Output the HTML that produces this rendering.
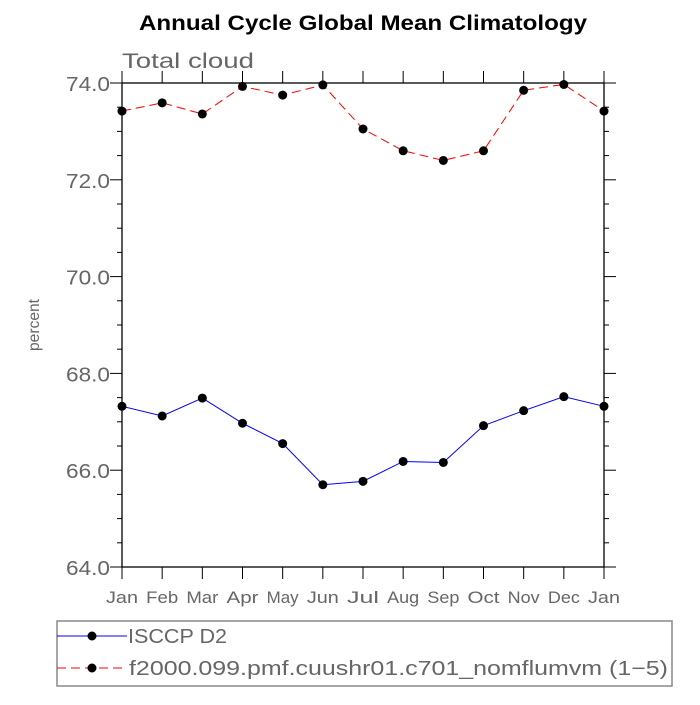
<!DOCTYPE html>
<html><head><meta charset="utf-8"><style>
body{margin:0;background:#fff}
svg text{font-family:"Liberation Sans","DejaVu Sans",sans-serif}
</style></head><body>
<svg id="chart" width="700" height="700" xmlns="http://www.w3.org/2000/svg">
<rect width="700" height="700" fill="#fff"/>
<text x="139" y="30" font-size="21" font-weight="bold" fill="#000" textLength="448" lengthAdjust="spacingAndGlyphs">Annual Cycle Global Mean Climatology</text>
<text x="122" y="68" font-size="21" fill="#666" textLength="132" lengthAdjust="spacingAndGlyphs">Total cloud</text>
<text transform="translate(39,325) rotate(-90)" text-anchor="middle" font-size="16" fill="#666" textLength="52" lengthAdjust="spacingAndGlyphs">percent</text>
<g id="axes"></g>
<g id="series"></g>
<rect x="57" y="621" width="615" height="65" fill="none" stroke="#888" stroke-width="1.5"/>
<g>
<line x1="57" y1="636" x2="127" y2="636" stroke="#00f" stroke-width="1"/>
<circle cx="92" cy="636" r="4.5" fill="#000"/>
<text x="128" y="643" font-size="20" fill="#666" textLength="99" lengthAdjust="spacingAndGlyphs">ISCCP D2</text>
</g>
<g>
<line x1="57" y1="668" x2="127" y2="668" stroke="#f00" stroke-width="1" stroke-dasharray="9,5"/>
<circle cx="92" cy="668" r="4.5" fill="#000"/>
<text x="129" y="675" font-size="20" fill="#666" textLength="539" lengthAdjust="spacingAndGlyphs">f2000.099.pmf.cuushr01.c701_nomflumvm (1−5)</text>
</g>
</svg>
<script>
const months=["Jan","Feb","Mar","Apr","May","Jun","Jul","Aug","Sep","Oct","Nov","Dec","Jan"];
const isccp=[67.32,67.12,67.49,66.97,66.55,65.7,65.77,66.18,66.16,66.92,67.23,67.52,67.32];
const model=[73.42,73.59,73.36,73.93,73.75,73.96,73.05,72.6,72.4,72.6,73.85,73.97,73.42];
const yTicks=[64,66,68,70,72,74];
const X0=122,X1=604,Y0=83,Y1=567,YMIN=64,YMAX=74;
const xs=i=>X0+(X1-X0)*i/(months.length-1);
const ys=v=>Y1-(v-YMIN)/(YMAX-YMIN)*(Y1-Y0);
const NS="http://www.w3.org/2000/svg";
function mk(t,a,p){const e=document.createElementNS(NS,t);for(const k in a)e.setAttribute(k,a[k]);p.appendChild(e);return e;}
const ax=document.getElementById('axes');
const fr=mk('rect',{x:X0,y:Y0,width:X1-X0,height:Y1-Y0,fill:'none',stroke:'#000','stroke-width':1.3},ax);


for(let v=YMIN;v<=YMAX+1e-9;v+=0.5){
 const y=ys(v),maj=Math.abs(v-Math.round(v/2)*2)<1e-9,L=maj?12:5;
 mk('line',{x1:X0-L,y1:y,x2:X0,y2:y,stroke:'#000','stroke-width':1},ax);
 mk('line',{x1:X1,y1:y,x2:X1+L,y2:y,stroke:'#000','stroke-width':1},ax);
}
yTicks.forEach(v=>{
 const t=mk('text',{x:X0-56,y:ys(v)+8,'font-size':20,fill:'#666',textLength:44,lengthAdjust:'spacingAndGlyphs'},ax);
 t.textContent=v.toFixed(1);
 
 
});
months.forEach((m,i)=>{
 const x=xs(i);
 mk('line',{x1:x,y1:Y1,x2:x,y2:Y1+12,stroke:'#000','stroke-width':1},ax);
 mk('line',{x1:x,y1:Y0-12,x2:x,y2:Y0,stroke:'#000','stroke-width':1},ax);
 const t=mk('text',{x:x,y:603,'text-anchor':'middle','font-size':17,fill:'#666',textLength:32,lengthAdjust:'spacingAndGlyphs'},ax);
 t.textContent=m;
 
 
});
const sg=document.getElementById('series');
function draw(vals,color,dash,name){
 const g=mk('g',{},sg);
 
 
 const pl=mk('polyline',{points:vals.map((v,i)=>xs(i)+','+ys(v)).join(' '),fill:'none',stroke:color,'stroke-width':1},g);
 if(dash)pl.setAttribute('stroke-dasharray',dash);
 vals.forEach((v,i)=>{
  const c=mk('circle',{cx:xs(i),cy:ys(v),r:4.5,fill:'#000'},g);
  
  
 });
}
draw(isccp,'#00f',null,'series-isccp');
draw(model,'#f00','9,5','series-model');
</script>
</body></html>
